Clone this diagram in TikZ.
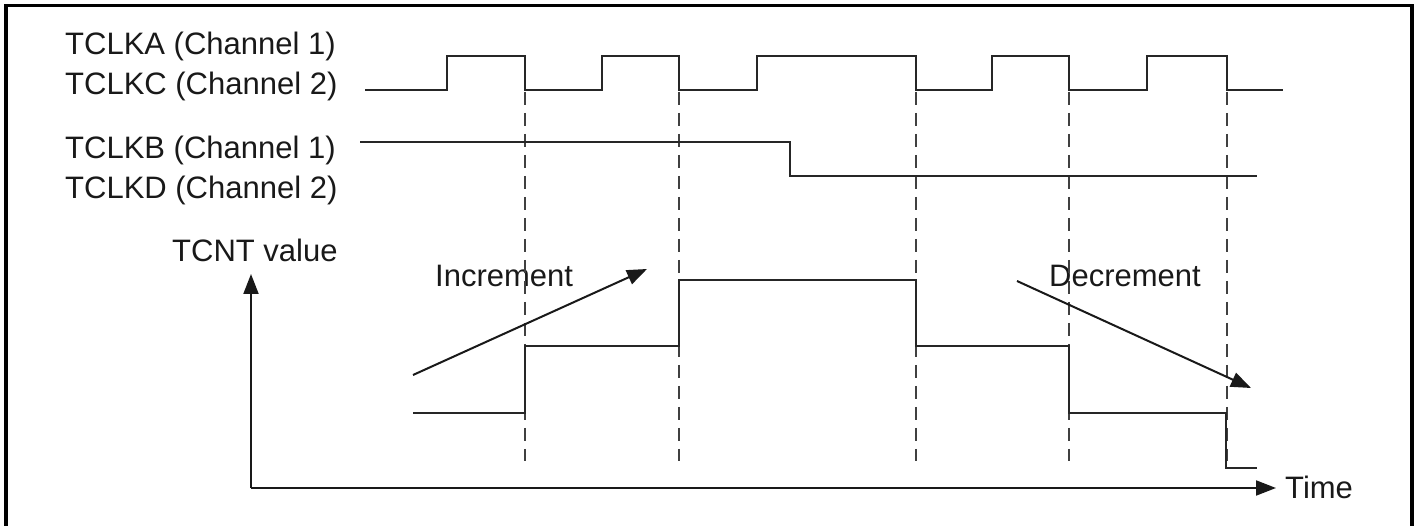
\documentclass[tikz,border=0pt]{standalone}
\usepackage{fontspec}
\setmainfont{Liberation Sans}
\usetikzlibrary{arrows.meta}
\begin{document}
\begin{tikzpicture}[x=1pt,y=-1pt,
  wave/.style={line width=2pt,black!85,line join=miter},
  guide/.style={line width=1.3pt,black!75,dash pattern=on 13pt off 8pt},
  lbl/.style={anchor=base west,inner sep=0pt,font=\fontsize{31}{36}\selectfont,text=black!90},
  arr/.style={line width=2pt,black!90,-{Triangle[length=20pt,width=15pt]}},
  frame/.style={line width=3.5pt,black}]
\useasboundingbox (0,0) rectangle (1417,526);
% frame (open at bottom)
\draw[frame] (6,526) -- (6,5.5) -- (1412,5.5) -- (1412,526);
% labels
\node[lbl] (la) at (65,55) {TCLKA (Channel 1)};
\node[lbl] (lc) at (65,95) {TCLKC (Channel 2)};
\node[lbl] (lb) at (65,159) {TCLKB (Channel 1)};
\node[lbl] (ld) at (65,199) {TCLKD (Channel 2)};
\node[lbl] (lt) at (172,262) {TCNT value};
\node[lbl] (inc) at (435,287) {Increment};
\node[lbl] (dec) at (1049,287) {Decrement};
\node[lbl] (time) at (1285,499) {Time};
% dashed guides
\foreach \x in {525,679,916,1069,1227}
  \draw[guide] (\x,92) -- (\x,461);
% TCLKA / TCLKC
\draw[wave] (365,90) -- (447,90) -- (447,56) -- (525,56) -- (525,90) -- (602,90) -- (602,56)
  -- (679,56) -- (679,90) -- (757,90) -- (757,56) -- (916,56) -- (916,90) -- (992,90)
  -- (992,56) -- (1069,56) -- (1069,90) -- (1147,90) -- (1147,56) -- (1227,56)
  -- (1227,90) -- (1283,90);
% TCLKB / TCLKD
\draw[wave] (360,142) -- (790,142) -- (790,176) -- (1257,176);
% TCNT steps
\draw[wave] (413,413) -- (525,413) -- (525,346) -- (679,346) -- (679,280) -- (916,280)
  -- (916,346) -- (1069,346) -- (1069,413) -- (1226,413) -- (1226,468) -- (1257,468);
% axes
\coordinate (orig) at (251,488);
\coordinate (ytip) at (251,274);
\coordinate (xtip) at (1276,488);
\draw[arr] (orig) -- (ytip);
\draw[arr] (orig) -- (xtip);
% increment / decrement arrows
\coordinate (i0) at (413,375);
\coordinate (i1) at (647,269);
\coordinate (d0) at (1017,281);
\coordinate (d1) at (1251,388);
\draw[arr] (i0) -- (i1);
\draw[arr] (d0) -- (d1);
\end{tikzpicture}
\end{document}
